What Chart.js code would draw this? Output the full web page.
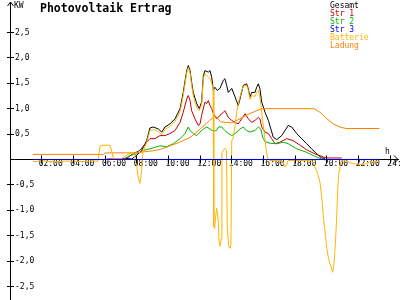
<!DOCTYPE html>
<html>
<head>
<meta charset="utf-8">
<script src="https://cdn.jsdelivr.net/npm/chart.js@4.4.0/dist/chart.umd.min.js"></script>
<style>
html, body { margin: 0; padding: 0; background: #fff; }
</style>
</head>
<body>
<canvas id="pv" width="400" height="300"></canvas>
<script>
// [hour of day, kW]
const gesamt = [[6.94,0],[7.32,0.02],[7.68,0.01],[7.99,0.08],[8.31,0.18],[8.62,0.37],[8.83,0.62],[9.04,0.64],[9.36,0.6],[9.57,0.54],[9.78,0.64],[10.09,0.7],[10.41,0.8],[10.73,1.0],[10.93,1.32],[11.15,1.75],[11.25,1.85],[11.36,1.75],[11.46,1.52],[11.56,1.32],[11.78,1.1],[11.94,1.0],[12.09,1.13],[12.2,1.65],[12.3,1.75],[12.51,1.72],[12.62,1.75],[12.73,1.61],[12.83,1.36],[12.93,1.42],[13.08,1.36],[13.25,1.4],[13.46,1.56],[13.56,1.59],[13.67,1.46],[13.77,1.32],[13.99,1.4],[14.2,1.23],[14.4,1.06],[14.51,1.19],[14.72,1.46],[14.93,1.49],[15.04,1.39],[15.14,1.23],[15.25,1.32],[15.46,1.32],[15.56,1.42],[15.67,1.49],[15.77,1.39],[15.88,1.13],[16.09,0.93],[16.3,0.77],[16.61,0.44],[16.83,0.39],[17.14,0.47],[17.56,0.67],[17.77,0.64],[18.09,0.51],[18.4,0.41],[18.72,0.31],[19.03,0.21],[19.35,0.11],[19.67,0.03],[19.87,0.02]];
const str1 = [[6.12,0.01],[7.13,0.01],[7.44,0.04],[7.76,0.11],[8.2,0.18],[8.62,0.34],[8.83,0.41],[9.15,0.41],[9.46,0.47],[9.78,0.47],[10.09,0.51],[10.41,0.57],[10.73,0.73],[10.93,0.93],[11.15,1.19],[11.25,1.26],[11.36,1.16],[11.46,0.96],[11.67,0.8],[11.88,0.67],[11.99,0.7],[12.09,0.87],[12.3,1.13],[12.41,1.1],[12.51,1.16],[12.62,1.06],[12.73,1.0],[12.83,0.9],[13.04,0.8],[13.25,0.87],[13.46,0.93],[13.56,0.96],[13.77,0.83],[13.99,0.77],[14.2,0.73],[14.4,0.7],[14.62,0.8],[14.83,0.9],[15.04,0.8],[15.25,0.73],[15.46,0.77],[15.67,0.83],[15.77,0.8],[15.88,0.64],[16.09,0.54],[16.3,0.51],[16.51,0.41],[16.72,0.31],[17.03,0.34],[17.46,0.41],[17.87,0.37],[18.3,0.28],[18.72,0.19],[19.24,0.11],[19.77,0.05],[19.98,0.03],[20.93,0.03]];
const str2 = [[7.15,0],[7.57,0.08],[7.99,0.11],[8.41,0.18],[8.83,0.21],[9.46,0.27],[9.89,0.25],[10.3,0.31],[10.73,0.41],[11.04,0.51],[11.25,0.64],[11.36,0.57],[11.56,0.51],[11.78,0.47],[11.99,0.54],[12.2,0.6],[12.41,0.64],[12.62,0.6],[12.83,0.56],[13.04,0.57],[13.15,0.64],[13.36,0.64],[13.56,0.57],[13.77,0.51],[13.99,0.47],[14.2,0.51],[14.51,0.6],[14.72,0.64],[14.93,0.57],[15.14,0.54],[15.46,0.57],[15.67,0.64],[15.82,0.6],[15.94,0.44],[16.09,0.35],[16.4,0.32],[16.83,0.31],[17.24,0.34],[17.56,0.31],[18.09,0.21],[18.72,0.14],[19.24,0.06],[19.67,0.01]];
const str3 = [[1.45,0],[23.34,0]];
const batterie = [[1.45,-0.04],[2.21,-0.03],[2.84,-0.05],[3.47,-0.03],[4.42,-0.04],[5.55,-0.03],[5.68,0.26],[5.87,0.28],[6.31,0.28],[6.44,0.14],[6.53,0.01],[6.94,0],[7.13,0.04],[7.44,0.1],[7.76,0.14],[7.95,-0.02],[8.1,-0.37],[8.2,-0.47],[8.3,-0.22],[8.39,0.14],[8.62,0.33],[8.83,0.57],[9.04,0.59],[9.36,0.55],[9.57,0.49],[9.78,0.59],[10.09,0.65],[10.41,0.75],[10.73,0.94],[10.93,1.26],[11.15,1.71],[11.25,1.81],[11.36,1.71],[11.46,1.46],[11.56,1.26],[11.78,1.02],[11.94,0.96],[12.09,1.08],[12.2,1.59],[12.3,1.69],[12.51,1.63],[12.62,1.59],[12.73,1.5],[12.81,1.4],[12.86,-1.32],[12.91,-1.36],[12.97,-1.14],[13.03,-0.96],[13.09,-1.04],[13.15,-1.24],[13.2,-1.65],[13.26,-1.71],[13.32,-1.56],[13.37,0.14],[13.56,0.22],[13.66,0.18],[13.71,-1.32],[13.79,-1.69],[13.88,-1.75],[13.94,-1.67],[13.99,0.37],[14.07,0.41],[14.2,0.67],[14.32,0.96],[14.45,1.16],[14.62,1.36],[14.72,1.44],[14.93,1.46],[15.04,1.36],[15.14,1.18],[15.25,1.26],[15.46,1.24],[15.56,1.32],[15.67,1.36],[15.77,1.22],[15.96,0.73],[16.18,0.14],[16.28,0],[16.4,-0.02],[17.03,-0.02],[17.22,-0.04],[17.32,-0.14],[17.44,-0.12],[17.54,-0.02],[19.03,-0.02],[19.13,-0.08],[19.35,-0.22],[19.56,-0.45],[19.7,-0.84],[19.77,-1.14],[19.87,-1.4],[19.98,-1.73],[20.08,-1.92],[20.19,-2.05],[20.3,-2.15],[20.36,-2.22],[20.44,-2.05],[20.5,-1.79],[20.55,-1.53],[20.61,-1.14],[20.68,-0.55],[20.76,-0.22],[20.82,-0.12],[20.88,-0.05],[21.14,-0.02],[21.34,-0.05],[21.66,-0.08],[22.19,-0.1],[22.5,-0.08],[22.71,-0.05],[23.03,-0.05],[23.34,-0.02]];
const ladung = [[1.45,0.1],[5.9,0.1],[6.0,0.13],[7.7,0.13],[8.2,0.14],[9.0,0.17],[9.5,0.2],[10.2,0.28],[10.7,0.34],[11.4,0.44],[12.0,0.6],[12.6,0.77],[12.95,0.86],[13.3,0.74],[14.0,0.72],[14.5,0.8],[15.1,0.9],[15.9,1.0],[19.2,1.0],[19.6,0.92],[20.0,0.8],[20.4,0.7],[20.8,0.64],[21.2,0.61],[23.3,0.61]];

const seriesNames = ['Gesamt', 'Str 1', 'Str 2', 'Str 3', 'Batterie', 'Ladung'];
const seriesColors = ['#000000', '#c00000', '#00b400', '#0000e6', '#ffb400', '#ff8000'];
const hourTicks = [2, 4, 6, 8, 10, 12, 14, 16, 18, 20, 22, 24];
const kwTicks = [-2.5, -2, -1.5, -1, -0.5, 0.5, 1, 1.5, 2, 2.5];

const FONT = '"DejaVu Sans Mono", monospace';

function pts(arr) {
    return arr.map(p => ({x: p[0], y: p[1]}));
}

function hhmm(h) {
    return (h < 10 ? '0' : '') + h + ':00';
}

// ticks crossing the axes, arrow heads, units, title and legend
const decorations = {
    id: 'decorations',
    afterDraw(chart) {
        const ctx = chart.ctx;
        const xs = chart.scales.x, ys = chart.scales.y;
        const ax = Math.floor(xs.getPixelForValue(0)) + 0.5;
        const ay = Math.floor(ys.getPixelForValue(0)) + 0.5;
        ctx.save();
        ctx.strokeStyle = '#000';
        ctx.lineWidth = 1;
        ctx.beginPath();
        ys.ticks.forEach(t => {
            const y = Math.floor(ys.getPixelForValue(t.value)) + 0.5;
            ctx.moveTo(ax - 3.5, y); ctx.lineTo(ax + 3.5, y);
        });
        xs.ticks.forEach(t => {
            const x = Math.floor(xs.getPixelForValue(t.value)) + 0.5;
            ctx.moveTo(x, ay - 4); ctx.lineTo(x, ay + 4);
        });
        // arrows
        const top = chart.chartArea.top, right = chart.chartArea.right;
        ctx.moveTo(ax - 3, top + 4); ctx.lineTo(ax, top); ctx.lineTo(ax + 3, top + 4);
        ctx.moveTo(right - 4, ay - 4); ctx.lineTo(right, ay); ctx.lineTo(right - 4, ay + 4);
        ctx.stroke();

        ctx.fillStyle = '#000';
        ctx.textBaseline = 'alphabetic';
        ctx.font = '8px ' + FONT;
        ctx.fillText('KW', 14, 8);
        ctx.fillText('h', 385, 153.5);

        ctx.font = 'bold 11.5px ' + FONT;
        ctx.fillText('Photovoltaik Ertrag', 40, 11.5);

        ctx.font = '8px ' + FONT;
        seriesNames.forEach((name, i) => {
            ctx.fillStyle = seriesColors[i];
            ctx.fillText(name, 330, 7.5 + i * 8);
        });
        ctx.restore();
    }
};

const seriesData = [gesamt, str1, str2, str3, batterie, ladung];
const drawOrder = [5, 4, 3, 0, 1, 2];

new Chart(document.getElementById('pv'), {
    type: 'scatter',
    data: {
        datasets: seriesData.map((d, i) => ({
            label: seriesNames[i],
            data: pts(d),
            showLine: true,
            borderColor: seriesColors[i],
            backgroundColor: seriesColors[i],
            borderWidth: 1,
            pointRadius: 0,
            tension: 0,
            order: drawOrder[i]
        }))
    },
    options: {
        responsive: false,
        animation: false,
        devicePixelRatio: 1,
        layout: { padding: { left: 10, right: 2, top: 2, bottom: 0 } },
        plugins: {
            legend: { display: false },
            tooltip: { enabled: false },
            title: { display: false }
        },
        scales: {
            x: {
                type: 'linear',
                position: { y: 0 },
                min: 0,
                max: 24.48,
                grid: { display: false, drawTicks: false },
                border: { display: true, color: '#000', width: 1 },
                ticks: {
                    autoSkip: false,
                    maxRotation: 0,
                    padding: 0,
                    labelOffset: 9,
                    color: '#000',
                    font: { family: FONT, size: 8 },
                    callback: v => hhmm(v)
                },
                afterBuildTicks: s => { s.ticks = hourTicks.map(v => ({value: v})); },
                afterFit: s => { s.height = 0; s.paddingLeft = 0; s.paddingRight = 0; }
            },
            y: {
                type: 'linear',
                position: 'left',
                min: -2.766,
                max: 3.1,
                grid: { display: false, drawTicks: false },
                border: { display: true, color: '#000', width: 1 },
                ticks: {
                    autoSkip: false,
                    mirror: true,
                    padding: 5,
                    color: '#000',
                    font: { family: FONT, size: 8 },
                    callback: v => v.toFixed(1).replace('.', ',')
                },
                afterBuildTicks: s => { s.ticks = kwTicks.map(v => ({value: v})); },
                afterFit: s => { s.width = 0; s.paddingTop = 0; s.paddingBottom = 0; }
            }
        }
    },
    plugins: [decorations]
});
</script>
</body>
</html>
